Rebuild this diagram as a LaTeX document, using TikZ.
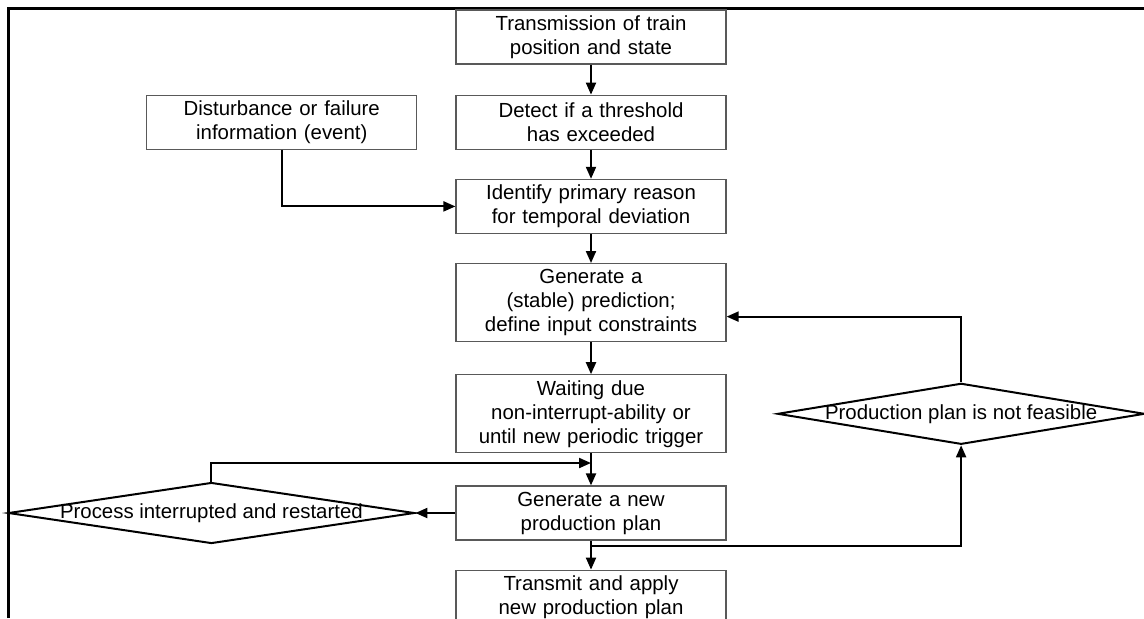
\documentclass[tikz,border=0pt]{standalone}
\usepackage{fontspec}
\setmainfont{Liberation Sans}
\usepackage{tikz}
\usetikzlibrary{calc, positioning, arrows.meta, shapes.geometric}
\tikzset{line/.style={draw, line width=1pt, -{Triangle[length=6pt, width=5pt]}}}

\begin{document}
\begin{tikzpicture}[node distance = 15pt, auto, font=\fontsize{10.2}{12}\selectfont]
\tikzstyle{block} = [rectangle, draw=black!65, line width=0.6pt, text width=130pt, align=center, minimum height=27pt, inner sep=2.5pt]
\tikzstyle{decision} = [diamond, draw, line width=1pt, minimum height=30.5pt, inner sep=0pt]

\clip (0,0) rectangle (572pt,-309pt);
\draw [line width=1.5pt] (4pt,-309pt) -- (4pt,-4pt) -- (572pt,-4pt);

\node [block] (transmit) at (295.5pt,-18.5pt) {Transmission of train\\position and state};
\node [block, below=15pt of transmit] (detect) {Detect if a threshold\\has exceeded};
\node [block, below=14.5pt of detect] (identify) {Identify primary reason\\for temporal deviation};
\node [block, below=14.5pt of identify, minimum height=39pt] (predict) {Generate a\\(stable) prediction;\\define input constraints};
\node [block, below=16pt of predict, minimum height=39pt] (wait) {Waiting due\\non-interrupt-ability or\\until new periodic trigger};
\node [block, below=16pt of wait] (newplan) {Generate a new\\production plan};
\node [block, below=14.5pt of newplan] (apply) {Transmit and apply\\new production plan};
\node [block, left=19pt of detect] (disturb) {Disturbance or failure\\information (event)};
\node [decision, minimum width=203pt, left=20pt of newplan] (interrupt) {\makebox[0pt]{Process interrupted and restarted}};
\node [decision, minimum width=183.5pt, right=25pt of wait] (infeasible) {\makebox[0pt]{Production plan is not feasible}};

\coordinate (join) at ($(wait.south)!0.3!(newplan.north)$);
\coordinate (split) at ($(newplan.south)!0.2!(apply.north)$);

\path [line] (transmit.south) -- (detect.north);
\path [line] (detect.south) -- (identify.north);
\path [line] (disturb.south) |- (identify.west);
\path [line] (identify.south) -- (predict.north);
\path [line] (predict.south) -- (wait.north);
\path [line] (wait.south) -- (newplan.north);
\path [line] (interrupt.north) |- (join);
\path [line] (newplan.west) -- (interrupt.east);
\path [line] (newplan.south) -- (apply.north);
\path [line] (split) -| (infeasible.south);
\path [line] (infeasible.north) |- ([yshift=-7pt]predict.east);

\end{tikzpicture}
\end{document}
